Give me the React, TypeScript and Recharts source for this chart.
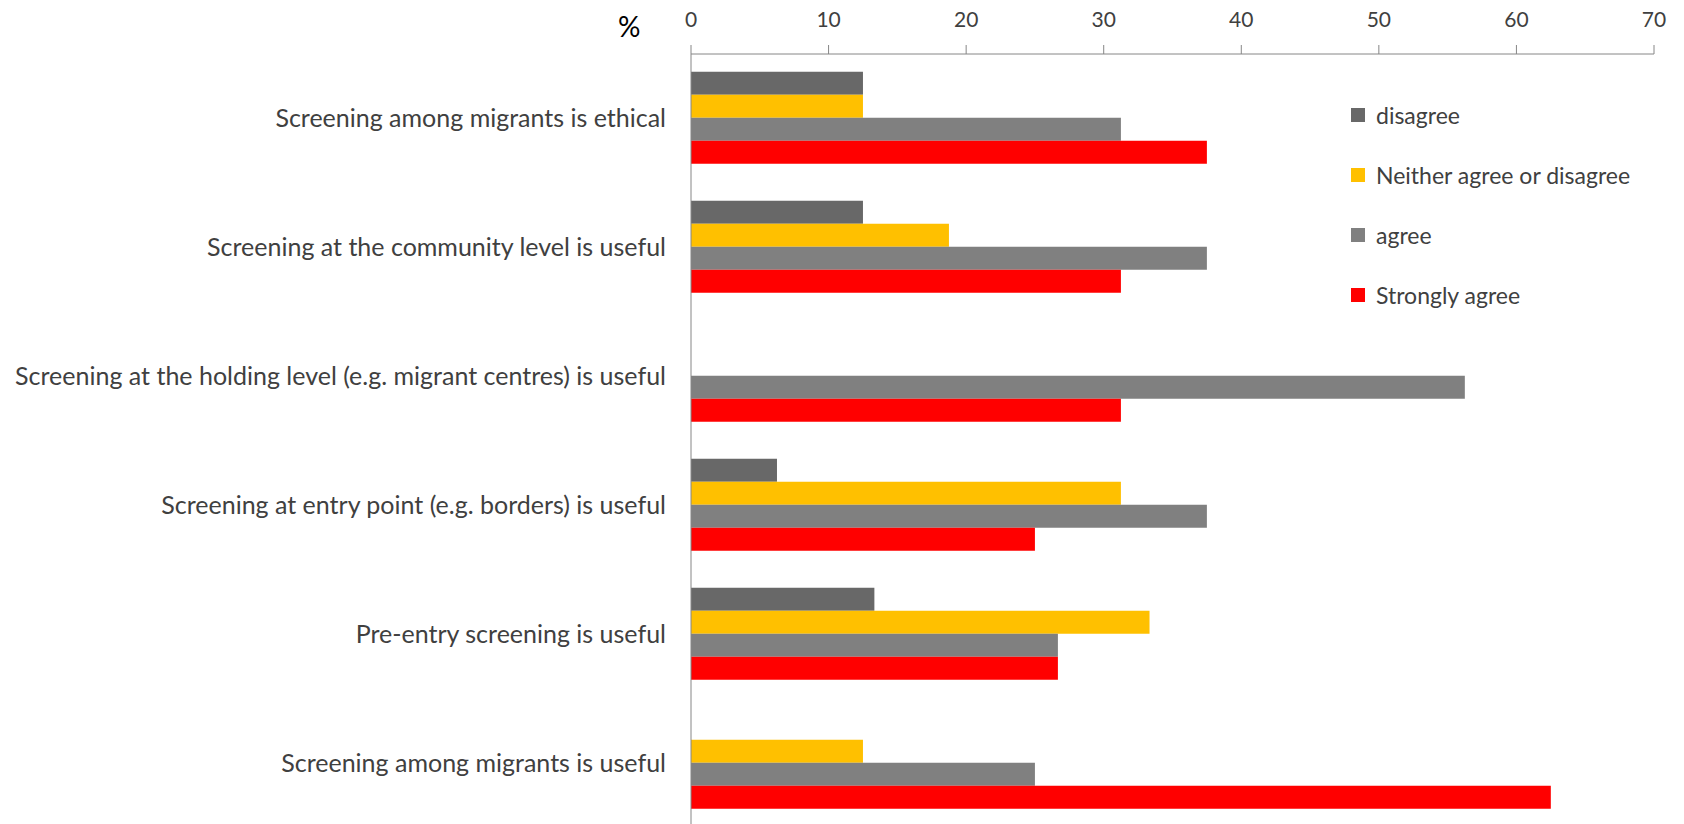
import React from 'react';
import { BarChart, Bar, XAxis, YAxis } from 'recharts';

const STATEMENTS = [
  'Screening among migrants is ethical',
  'Screening at the community level is useful',
  'Screening at the holding level (e.g. migrant centres) is useful',
  'Screening at entry point (e.g. borders) is useful',
  'Pre-entry screening is useful',
  'Screening among migrants is useful',
];

const DISAGREE = [12.5, 12.5, null, 6.25, 13.33, null];
const NEITHER = [12.5, 18.75, null, 31.25, 33.33, 12.5];
const AGREE = [31.25, 37.5, 56.25, 37.5, 26.67, 25];
const STRONGLY_AGREE = [37.5, 31.25, 31.25, 25, 26.67, 62.5];

const X_TICKS = [0, 10, 20, 30, 40, 50, 60, 70];

const SERIES = [
  { key: 'disagree', name: 'disagree', color: '#686868' },
  { key: 'neither', name: 'Neither agree or disagree', color: '#FFC000' },
  { key: 'agree', name: 'agree', color: '#808080' },
  { key: 'strongly', name: 'Strongly agree', color: '#FF0000' },
];

const data = STATEMENTS.map((s, i) => ({
  statement: s,
  disagree: DISAGREE[i],
  neither: NEITHER[i],
  agree: AGREE[i],
  strongly: STRONGLY_AGREE[i],
}));

const FONT = 'Lato, "Open Sans", sans-serif';
const TEXT = '#404040';
const AXIS = '#868686';

// legend drawn beside the plot, like the excel one (no space taken from the plot)
const LegendBox = () => (
  <div style={{ position: 'absolute', left: 1351, top: 85, fontFamily: FONT, fontSize: 23, color: TEXT }}>
    {SERIES.map((s) => (
      <div key={s.key} style={{ display: 'flex', alignItems: 'center', height: 60 }}>
        <span style={{ width: 14, height: 14, background: s.color, display: 'inline-block', marginRight: 11 }} />
        <span>{s.name}</span>
      </div>
    ))}
  </div>
);

export default function App() {
  return (
    <div style={{ position: 'absolute', left: 0, top: 0, width: 1684, height: 824, overflow: 'hidden', background: '#fff' }}>
      <BarChart
        width={1684}
        height={828}
        data={data}
        layout="vertical"
        margin={{ top: 24, right: 30, bottom: 0, left: 0 }}
        barCategoryGap="13.8%"
        barGap={0}
      >
        <XAxis
          type="number"
          orientation="top"
          height={30}
          domain={[0, 70]}
          ticks={X_TICKS}
          interval={0}
          stroke={AXIS}
          tickSize={9}
          tickMargin={18}
          tick={{ fill: TEXT, fontSize: 21, fontFamily: FONT }}
        />
        <YAxis
          type="category"
          dataKey="statement"
          width={691}
          stroke={AXIS}
          tickLine={false}
          tickSize={0}
          tickMargin={25}
          interval={0}
          tick={{ fill: TEXT, fontSize: 25, fontFamily: FONT }}
        />
        {SERIES.map((s) => (
          <Bar key={s.key} dataKey={s.key} name={s.name} fill={s.color} isAnimationActive={false} />
        ))}
      </BarChart>
      <LegendBox />
      <div style={{ position: 'absolute', left: 618, top: 9, fontFamily: FONT, fontSize: 28, color: '#000' }}>%</div>
    </div>
  );
}
